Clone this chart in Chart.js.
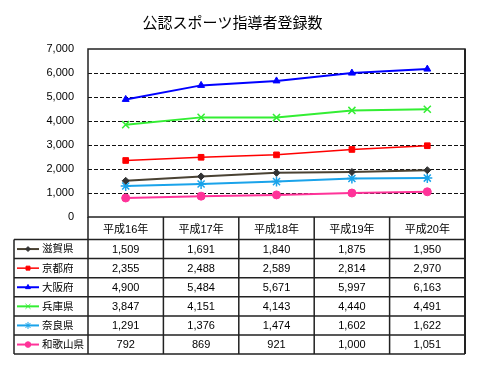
<!DOCTYPE html>
<html>
<head>
<meta charset="utf-8">
<script src="https://cdn.jsdelivr.net/npm/chart.js@4/dist/chart.umd.min.js"></script>
<style>
  html, body { margin: 0; padding: 0; background: #fff; }
  #wrap { width: 480px; height: 373px; position: relative; }
</style>
</head>
<body>
<div id="wrap"><canvas id="chart" width="480" height="373"></canvas></div>
<script>
var chartTitle = "公認スポーツ指導者登録数";
var years = ["平成16年", "平成17年", "平成18年", "平成19年", "平成20年"];
var prefs = ["滋賀県", "京都府", "大阪府", "兵庫県", "奈良県", "和歌山県"];

var shiga    = [1509, 1691, 1840, 1875, 1950];
var kyoto    = [2355, 2488, 2589, 2814, 2970];
var osaka    = [4900, 5484, 5671, 5997, 6163];
var hyogo    = [3847, 4151, 4143, 4440, 4491];
var nara     = [1291, 1376, 1474, 1602, 1622];
var wakayama = [792, 869, 921, 1000, 1051];

var yMin = 0, yMax = 7000, yStep = 1000;

var fontStack = '"Liberation Sans", "Noto Sans CJK JP", sans-serif';

var lineColors  = ["#4a4233", "#ff0000", "#0000ff", "#33ee33", "#1aa3ea", "#ff3399"];
var markColors  = ["#333333", "#ff0000", "#0000ff", "#33ee33", "#1aa3ea", "#ff3399"];
var markStyles  = ["rectRot", "rect", "triangle", "crossRot", "star", "circle"];
var markSizes   = [3.5, 4, 4, 5, 5, 4];
var lineWidths  = [2, 1.5, 2, 2, 2, 2];

var seriesValues = [shiga, kyoto, osaka, hyogo, nara, wakayama];

var datasets = [];
for (var i = 0; i < prefs.length; i++) {
  datasets.push({
    label: prefs[i],
    data: seriesValues[i],
    borderColor: lineColors[i],
    backgroundColor: markColors[i],
    pointBorderColor: markColors[i],
    pointBackgroundColor: markColors[i],
    pointStyle: markStyles[i],
    pointRadius: markSizes[i],
    pointBorderWidth: markStyles[i] == "crossRot" || markStyles[i] == "star" ? 1.5 : 1,
    borderWidth: lineWidths[i],
    tension: 0
  });
}

// draws the plot frame and the data table under the plot
var tablePlugin = {
  id: "dataTable",
  afterDraw: function(chart) {
    var ctx = chart.ctx;
    var area = chart.chartArea;
    var colW = (area.right - area.left) / years.length;
    var headBottom = 239.5;
    var rowH = 19.1;
    var labelLeft = 14;
    var tableBottom = headBottom + rowH * prefs.length;

    ctx.save();
    ctx.strokeStyle = "#222";
    ctx.lineWidth = 1.5;

    // plot frame
    ctx.strokeRect(area.left, area.top, area.right - area.left, area.bottom - area.top);

    // header row lines
    ctx.beginPath();
    for (var c = 0; c <= years.length; c++) {
      var x = area.left + c * colW;
      ctx.moveTo(x, area.bottom);
      ctx.lineTo(x, tableBottom);
    }
    // row lines
    for (var r = 0; r <= prefs.length; r++) {
      var y = headBottom + r * rowH;
      ctx.moveTo(labelLeft, y);
      ctx.lineTo(area.right, y);
    }
    ctx.moveTo(labelLeft, headBottom);
    ctx.lineTo(labelLeft, tableBottom);
    ctx.stroke();
    ctx.lineWidth = 2;
    ctx.beginPath();
    ctx.moveTo(area.right, area.top);
    ctx.lineTo(area.right, tableBottom);
    ctx.stroke();

    // row labels with legend keys
    ctx.textBaseline = "middle";
    for (var r = 0; r < prefs.length; r++) {
      var cy = headBottom + r * rowH + rowH / 2;
      ctx.strokeStyle = lineColors[r];
      ctx.lineWidth = lineWidths[r];
      ctx.beginPath();
      ctx.moveTo(17, cy);
      ctx.lineTo(39, cy);
      ctx.stroke();
      ctx.fillStyle = markColors[r];
      ctx.strokeStyle = markColors[r];
      ctx.lineWidth = 1;
      Chart.helpers.drawPoint(ctx, {
        pointStyle: markStyles[r],
        radius: markSizes[r] * 0.7,
        rotation: 0,
        borderWidth: 1
      }, 28, cy);

      ctx.fillStyle = "#000";
      ctx.textAlign = "left";
      ctx.font = "10.5px " + fontStack;
      ctx.fillText(prefs[r], 42, cy + 0.5);

      ctx.textAlign = "center";
      ctx.font = "11px " + fontStack;
      var vals = seriesValues[r];
      for (var c = 0; c < vals.length; c++) {
        var xc = chart.scales.x.getPixelForValue(c);
        ctx.fillText(vals[c].toLocaleString("en-US"), xc, cy + 0.5);
      }
    }
    ctx.restore();
  }
};

new Chart("chart", {
  type: "line",
  data: {
    labels: years,
    datasets: datasets
  },
  plugins: [tablePlugin],
  options: {
    responsive: false,
    animation: false,
    layout: { padding: { top: 0, left: 0, right: 15, bottom: 0 } },
    plugins: {
      legend: { display: false },
      tooltip: { enabled: false },
      title: {
        display: true,
        text: chartTitle,
        color: "#000",
        font: { family: fontStack, size: 15, weight: "normal" },
        padding: { top: 15, bottom: 16 }
      }
    },
    scales: {
      x: {
        offset: true,
        grid: { display: false, drawTicks: false },
        border: { display: false },
        ticks: {
          color: "#000",
          font: { family: fontStack, size: 11 },
          padding: 6,
          maxRotation: 0
        },
        afterFit: function(s) { s.height = 156; }
      },
      y: {
        min: yMin,
        max: yMax,
        grid: {
          drawTicks: false,
          color: function(c) {
            var v = c.tick.value;
            return (v == yMin || v == yMax) ? "rgba(0,0,0,0)" : "#111";
          },
          lineWidth: 1
        },
        border: { display: false, dash: [4, 2] },
        ticks: {
          stepSize: yStep,
          color: "#000",
          padding: 14,
          font: { family: fontStack, size: 11 },
          callback: function(v) { return v.toLocaleString("en-US"); }
        },
        afterFit: function(s) { s.width = 88; }
      }
    }
  }
});
</script>
</body>
</html>
